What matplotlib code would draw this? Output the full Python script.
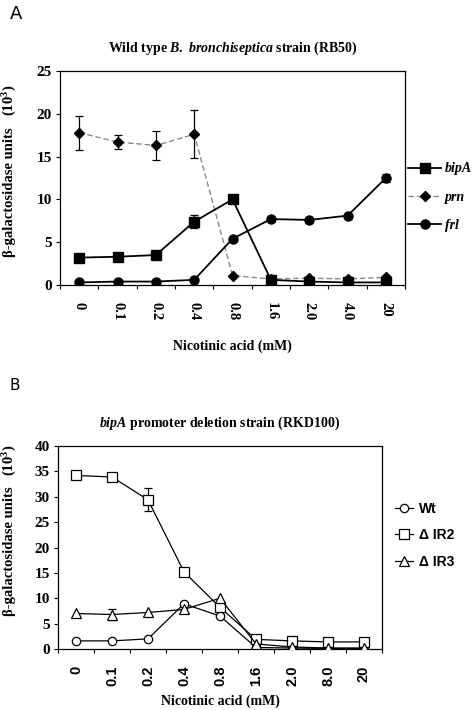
import numpy as np
from matplotlib import pyplot as plt

plt.rcParams['mathtext.fontset'] = 'custom'
plt.rcParams['mathtext.rm'] = 'Liberation Serif:bold'
plt.rcParams['mathtext.it'] = 'Liberation Serif:bold:italic'
plt.rcParams['mathtext.bf'] = 'Liberation Serif:bold'

# Panel A - wild type RB50
etiquetas_a = ['0', '0.1', '0.2', '0.4', '0.8', '1.6', '2.0', '4.0', '20']
bipa = [3.2, 3.3, 3.5, 7.4, 10.0, 0.6, 0.4, 0.3, 0.3]
bipa_err = [0, 0, 0.5, 0.8, 0, 0, 0, 0, 0]
prn = [17.8, 16.7, 16.3, 17.6, 1.1, 0.7, 0.8, 0.7, 0.9]
prn_err = [2.0, 0.85, 1.7, 2.8, 0, 0, 0, 0, 0]
frl = [0.3, 0.4, 0.4, 0.6, 5.4, 7.7, 7.6, 8.1, 12.5]
frl_err = [0, 0, 0, 0, 0, 0, 0, 0, 0.5]

# Panel B - bipA promoter deletion strain RKD100
etiquetas_b = ['0', '0.1', '0.2', '0.4', '0.8', '1.6', '2.0', '8.0', '20']
wt = [1.6, 1.6, 2.0, 8.9, 6.5, 0.3, 0.2, 0.1, 0.1]
wt_err = [0, 0, 0, 0, 0, 0, 0, 0, 0]
ir2 = [34.2, 33.9, 29.4, 15.2, 8.2, 1.9, 1.6, 1.4, 1.4]
ir2_err = [0, 0, 2.3, 0, 0, 0, 0, 0, 0]
ir3 = [7.0, 6.8, 7.2, 7.8, 10.0, 1.0, 0.4, 0.2, 0.2]
ir3_err = [0, 1.0, 0, 0, 0, 0, 0, 0, 0]

serif = 'Liberation Serif'
sans = 'Liberation Sans'

fig = plt.figure(figsize=(4.74, 7.10), dpi=100)
ax1 = fig.add_axes([0.1266, 0.5986, 0.728, 0.3014])
ax2 = fig.add_axes([0.1224, 0.0859, 0.6835, 0.2859])


def serie(ax, x, y, err, **kw):
    ax.plot(x, y, **kw)
    y = np.array(y)
    err = np.array(err)
    m = err > 0
    ax.errorbar(np.array(x)[m], y[m], yerr=err[m], fmt='none', ecolor='black',
                elinewidth=0.9, capsize=3, capthick=0.9, zorder=1)


xa = np.arange(len(etiquetas_a))
serie(ax1, xa, prn, prn_err, color='#8a8a8a', ls=(0, (4, 2)), lw=1.0, marker='D',
      ms=5, mfc='black', mec='black', label='prn', zorder=2)
serie(ax1, xa, bipa, bipa_err, color='black', lw=1.3, marker='s', ms=6.5,
      label='bipA', zorder=3)
serie(ax1, xa, frl, frl_err, color='black', lw=1.3, marker='o', ms=6.5,
      label='frl', zorder=3)

xb = np.arange(len(etiquetas_b))
serie(ax2, xb, wt, wt_err, color='black', lw=0.9, marker='o', ms=6,
      mfc='white', mec='black', mew=0.9, label='Wt', zorder=3)
serie(ax2, xb, ir2, ir2_err, color='black', lw=0.9, marker='s', ms=6.5,
      mfc='white', mec='black', mew=0.9, label='\u0394 IR2', zorder=3)
serie(ax2, xb, ir3, ir3_err, color='black', lw=0.9, marker='^', ms=6.5,
      mfc='white', mec='black', mew=0.9, label='\u0394 IR3', zorder=3)

ax1.set_ylim(0, 25)
ax1.set_yticks([0, 5, 10, 15, 20, 25])
ax2.set_ylim(0, 40)
ax2.set_yticks(range(0, 41, 5))

for ax, x, etiq, rot, fam in ((ax1, xa, etiquetas_a, 270, serif), (ax2, xb, etiquetas_b, 90, sans)):
    ax.set_xlim(-0.5, 8.5)
    ax.set_xticks(x)
    ax.set_xticklabels(etiq, rotation=rot, fontfamily=fam, fontweight='bold', fontsize=10.5)
    ax.set_xticks(np.arange(-0.5, 9, 1), minor=True)
    for t in ax.get_yticklabels():
        t.set_fontfamily(serif)
        t.set_fontweight('bold')
        t.set_fontsize(11)
    ax.tick_params(axis='y', direction='out', length=3, width=0.8, pad=3)
    ax.tick_params(axis='x', which='major', length=0, pad=12)
    ax.tick_params(axis='x', which='minor', direction='out', length=3, width=0.8)
    for s in ax.spines.values():
        s.set_linewidth(0.9)

ax1.set_xlabel('Nicotinic acid (mM)', fontfamily=serif, fontweight='bold', fontsize=10, labelpad=14)
ax1.set_title(r'Wild type $\it{B.\ bronchiseptica}$ strain (RB50)', fontfamily=serif,
              fontweight='bold', fontsize=10, pad=14)
ax2.set_xlabel('Nicotinic acid (mM)', fontfamily=serif, fontweight='bold', fontsize=10, labelpad=6)
ax2.set_title(r'$\it{bipA}$ promoter deletion strain (RKD100)', fontfamily=serif,
              fontweight='bold', fontsize=10, pad=14)

h, l = ax1.get_legend_handles_labels()
orden = [1, 0, 2]
ax1.legend([h[i] for i in orden], [l[i] for i in orden], loc='center left',
           bbox_to_anchor=(1.0, 0.41), frameon=False, handlelength=2.4,
           handletextpad=0.25, labelspacing=1.1, borderaxespad=0.2, borderpad=0,
           prop={'family': serif, 'weight': 'bold', 'style': 'italic', 'size': 10})

ax2.legend(loc='center left', bbox_to_anchor=(1.04, 0.56), frameon=False, handlelength=1.3,
           handletextpad=0.4, labelspacing=0.9, borderaxespad=0, borderpad=0,
           prop={'family': sans, 'weight': 'bold', 'size': 10})

# etiquetas del eje y
fig.text(0.021, 0.7296, '\u03b2-galactosidase units', rotation=90, ha='center', va='center',
         fontfamily=serif, fontweight='bold', fontsize=10.5)
fig.text(0.021, 0.858, '(10$^3$)', rotation=90, ha='center', va='center',
         fontfamily=serif, fontweight='bold', fontsize=10.5)
fig.text(0.021, 0.224, '\u03b2-galactosidase units', rotation=90, ha='center', va='center',
         fontfamily=serif, fontweight='bold', fontsize=10.5)
fig.text(0.021, 0.352, '(10$^3$)', rotation=90, ha='center', va='center',
         fontfamily=serif, fontweight='bold', fontsize=10.5)

fig.text(0.02, 0.98, 'A', ha='left', va='center', fontfamily='DejaVu Sans', fontsize=13)
fig.text(0.02, 0.457, 'B', ha='left', va='center', fontfamily='DejaVu Sans', fontsize=11)

plt.savefig('out.png', dpi=100)
